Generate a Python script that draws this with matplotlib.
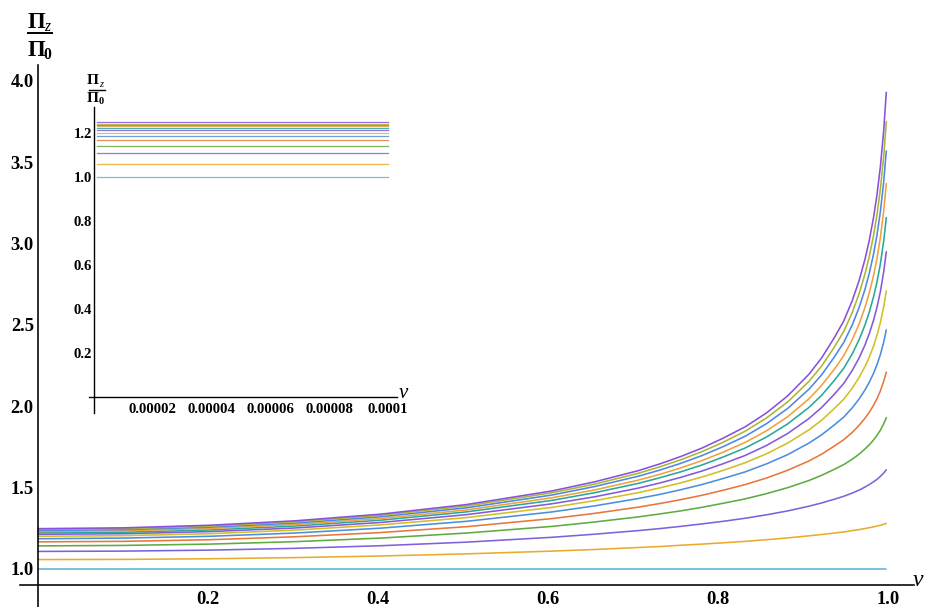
import matplotlib
matplotlib.use("Agg")
import matplotlib.pyplot as plt
from matplotlib.lines import Line2D

# ---- data -------------------------------------------------------------
v = [0.0, 0.101, 0.202, 0.302, 0.403, 0.504, 0.605, 0.655, 0.706, 0.731,
     0.756, 0.781, 0.806, 0.832, 0.857, 0.882, 0.907, 0.922, 0.937, 0.948,
     0.958, 0.966, 0.973, 0.978, 0.983, 0.987, 0.991, 0.995, 0.998]

pi_1 = [1.000] * 29
pi_2 = [1.058, 1.059, 1.063, 1.070, 1.080, 1.093, 1.110, 1.120, 1.132, 1.138,
        1.146, 1.153, 1.161, 1.170, 1.180, 1.191, 1.204, 1.212, 1.221, 1.228,
        1.236, 1.242, 1.249, 1.254, 1.259, 1.264, 1.269, 1.275, 1.280]
pi_3 = [1.108, 1.110, 1.116, 1.127, 1.143, 1.165, 1.195, 1.214, 1.236, 1.248,
        1.262, 1.277, 1.293, 1.312, 1.333, 1.357, 1.386, 1.406, 1.429, 1.447,
        1.467, 1.485, 1.504, 1.519, 1.536, 1.551, 1.569, 1.590, 1.610]
pi_4 = [1.142, 1.145, 1.153, 1.168, 1.190, 1.221, 1.262, 1.289, 1.320, 1.338,
        1.357, 1.379, 1.404, 1.431, 1.463, 1.500, 1.544, 1.576, 1.613, 1.642,
        1.675, 1.706, 1.738, 1.763, 1.793, 1.821, 1.853, 1.893, 1.930]
pi_5 = [1.167, 1.170, 1.180, 1.198, 1.224, 1.260, 1.310, 1.342, 1.380, 1.402,
        1.426, 1.453, 1.484, 1.519, 1.559, 1.607, 1.664, 1.706, 1.756, 1.795,
        1.840, 1.883, 1.927, 1.964, 2.006, 2.047, 2.094, 2.154, 2.210]
pi_6 = [1.186, 1.190, 1.201, 1.221, 1.251, 1.293, 1.351, 1.388, 1.433, 1.458,
        1.487, 1.519, 1.556, 1.597, 1.646, 1.703, 1.774, 1.825, 1.886, 1.934,
        1.991, 2.045, 2.101, 2.148, 2.203, 2.255, 2.317, 2.395, 2.470]
pi_7 = [1.201, 1.205, 1.217, 1.239, 1.271, 1.316, 1.379, 1.420, 1.469, 1.498,
        1.529, 1.565, 1.606, 1.653, 1.708, 1.774, 1.855, 1.915, 1.987, 2.044,
        2.112, 2.177, 2.245, 2.302, 2.370, 2.435, 2.514, 2.613, 2.710]
pi_8 = [1.213, 1.217, 1.230, 1.252, 1.286, 1.334, 1.401, 1.444, 1.497, 1.528,
        1.563, 1.602, 1.647, 1.698, 1.759, 1.833, 1.925, 1.993, 2.075, 2.141,
        2.221, 2.297, 2.378, 2.447, 2.529, 2.608, 2.704, 2.828, 2.950]
pi_9 = [1.222, 1.226, 1.240, 1.264, 1.300, 1.351, 1.422, 1.469, 1.526, 1.560,
        1.597, 1.639, 1.688, 1.744, 1.811, 1.892, 1.993, 2.068, 2.160, 2.234,
        2.323, 2.409, 2.501, 2.579, 2.673, 2.763, 2.874, 3.018, 3.160]
pi_10 = [1.230, 1.235, 1.249, 1.273, 1.310, 1.363, 1.438, 1.486, 1.546, 1.581,
         1.621, 1.666, 1.718, 1.778, 1.849, 1.936, 2.046, 2.129, 2.229, 2.311,
         2.410, 2.506, 2.609, 2.698, 2.804, 2.908, 3.036, 3.203, 3.370]
pi_11 = [1.237, 1.242, 1.257, 1.282, 1.321, 1.376, 1.455, 1.507, 1.570, 1.607,
         1.649, 1.697, 1.752, 1.816, 1.893, 1.987, 2.105, 2.194, 2.304, 2.393,
         2.501, 2.607, 2.720, 2.818, 2.936, 3.051, 3.195, 3.381, 3.570]
pi_12 = [1.243, 1.248, 1.263, 1.290, 1.330, 1.387, 1.469, 1.522, 1.588, 1.627,
         1.671, 1.721, 1.779, 1.847, 1.928, 2.027, 2.153, 2.248, 2.365, 2.461,
         2.577, 2.692, 2.815, 2.921, 3.050, 3.176, 3.334, 3.540, 3.750]
pi_13 = [1.248, 1.253, 1.269, 1.296, 1.337, 1.396, 1.480, 1.536, 1.604, 1.645,
         1.691, 1.743, 1.804, 1.874, 1.959, 2.064, 2.197, 2.298, 2.423, 2.525,
         2.650, 2.773, 2.905, 3.021, 3.161, 3.299, 3.471, 3.698, 3.930]

curves = [pi_1, pi_2, pi_3, pi_4, pi_5, pi_6, pi_7,
          pi_8, pi_9, pi_10, pi_11, pi_12, pi_13]

colors = ["#56b7d4", "#eaab2c", "#7d63db", "#5eab42", "#e9763c", "#4a8fdd",
          "#d2bf22", "#8559d9", "#27a89b", "#f0a23a", "#4f86e8", "#a8b82c",
          "#8a4fe0"]

# small-v close-up: the levels are flat over this range
inset_v = [1.0e-6, 1.0e-4]
inset_pi = [1.000, 1.058, 1.108, 1.142, 1.167, 1.186, 1.201, 1.213,
            1.222, 1.230, 1.237, 1.243, 1.248]

x_ticks = [0.2, 0.4, 0.6, 0.8, 1.0]
x_tick_labels = ["0.2", "0.4", "0.6", "0.8", "1.0"]
y_ticks = [1.0, 1.5, 2.0, 2.5, 3.0, 3.5, 4.0]
y_tick_labels = ["1.0", "1.5", "2.0", "2.5", "3.0", "3.5", "4.0"]
inset_x_ticks = [0.00002, 0.00004, 0.00006, 0.00008, 0.0001]
inset_x_tick_labels = ["0.00002", "0.00004", "0.00006", "0.00008", "0.0001"]
inset_y_ticks = [0.2, 0.4, 0.6, 0.8, 1.0, 1.2]
inset_y_tick_labels = ["0.2", "0.4", "0.6", "0.8", "1.0", "1.2"]

# ---- figure -----------------------------------------------------------
W, H = 925, 607
fig = plt.figure(figsize=(W / 100, H / 100), dpi=100)


def fx(px):
    return px / W


def fy(py):
    return 1 - py / H


SERIF = "Liberation Serif"
bold = dict(family=SERIF, weight="bold")
ital = dict(family=SERIF, style="italic")


def style_axes(ax, origin_y, lw):
    for side in ("top", "right"):
        ax.spines[side].set_visible(False)
    ax.spines["left"].set_position(("data", 0))
    ax.spines["bottom"].set_position(("data", origin_y))
    for side in ("left", "bottom"):
        ax.spines[side].set_linewidth(lw)
        ax.spines[side].set_color("black")
    ax.patch.set_alpha(0)


# main plot
ax = fig.add_axes([fx(20), 0, (914 - 20) / W, (607 - 65) / H])
ax.set_xlim(-0.02118, 1.03059)
ax.set_ylim(0.76644, 4.09773)
style_axes(ax, 0.9, 1.15)
for vals, c in zip(curves, colors):
    ax.plot(v, vals, color=c, lw=1.15, solid_joinstyle="round",
            solid_capstyle="round")
ax.set_xticks(x_ticks)
ax.set_xticklabels(x_tick_labels, fontsize=13.3, **bold)
ax.set_yticks(y_ticks)
ax.set_yticklabels(y_tick_labels, fontsize=13.3, **bold)
ax.tick_params(axis="x", length=0, pad=4.3)
ax.tick_params(axis="y", length=0, pad=3.0)

# inset plot
axi = fig.add_axes([fx(89), fy(413), (397 - 89) / W, (413 - 107) / H])
axi.set_xlim(-1.7e-6, 1.0306e-4)
axi.set_ylim(-0.0727, 1.318)
style_axes(axi, 0.0, 1.0)
for lvl, c in zip(inset_pi, colors):
    axi.plot(inset_v, [lvl, lvl], color=c, lw=0.9, alpha=0.85)
axi.set_xticks(inset_x_ticks)
axi.set_xticklabels(inset_x_tick_labels, fontsize=10.6, **bold)
axi.set_yticks(inset_y_ticks)
axi.set_yticklabels(inset_y_tick_labels, fontsize=10.6, **bold)
axi.tick_params(axis="x", length=0, pad=4.0)
axi.tick_params(axis="y", length=0, pad=1.5)

# axis labels
fig.text(fx(918), fy(580), "v", fontsize=17, ha="center", va="center", **ital)
fig.text(fx(403), fy(393), "v", fontsize=15, ha="center", va="center", **ital)


def frac_label(xc, y_top, y_bar, y_bot, size, sub_dx, bar_half, lw):
    fig.text(fx(xc), fy(y_top), "Π", fontsize=size, ha="center", va="center", **bold)
    fig.text(fx(xc + sub_dx), fy(y_top + size * 0.28), "z", fontsize=size * 0.68,
             ha="center", va="center", **ital)
    fig.add_artist(Line2D([fx(xc - bar_half + 4), fx(xc + bar_half + 4)],
                          [fy(y_bar), fy(y_bar)], transform=fig.transFigure,
                          color="black", lw=lw))
    fig.text(fx(xc), fy(y_bot), "Π", fontsize=size, ha="center", va="center", **bold)
    fig.text(fx(xc + sub_dx), fy(y_bot + size * 0.28), "0", fontsize=size * 0.68,
             ha="center", va="center", **bold)


frac_label(36, 22.5, 33, 50, 16.5, 11.5, 12, 1.4)
frac_label(93, 81, 90, 98.5, 11, 8.5, 8, 1.0)

fig.savefig("out.png", dpi=100)
